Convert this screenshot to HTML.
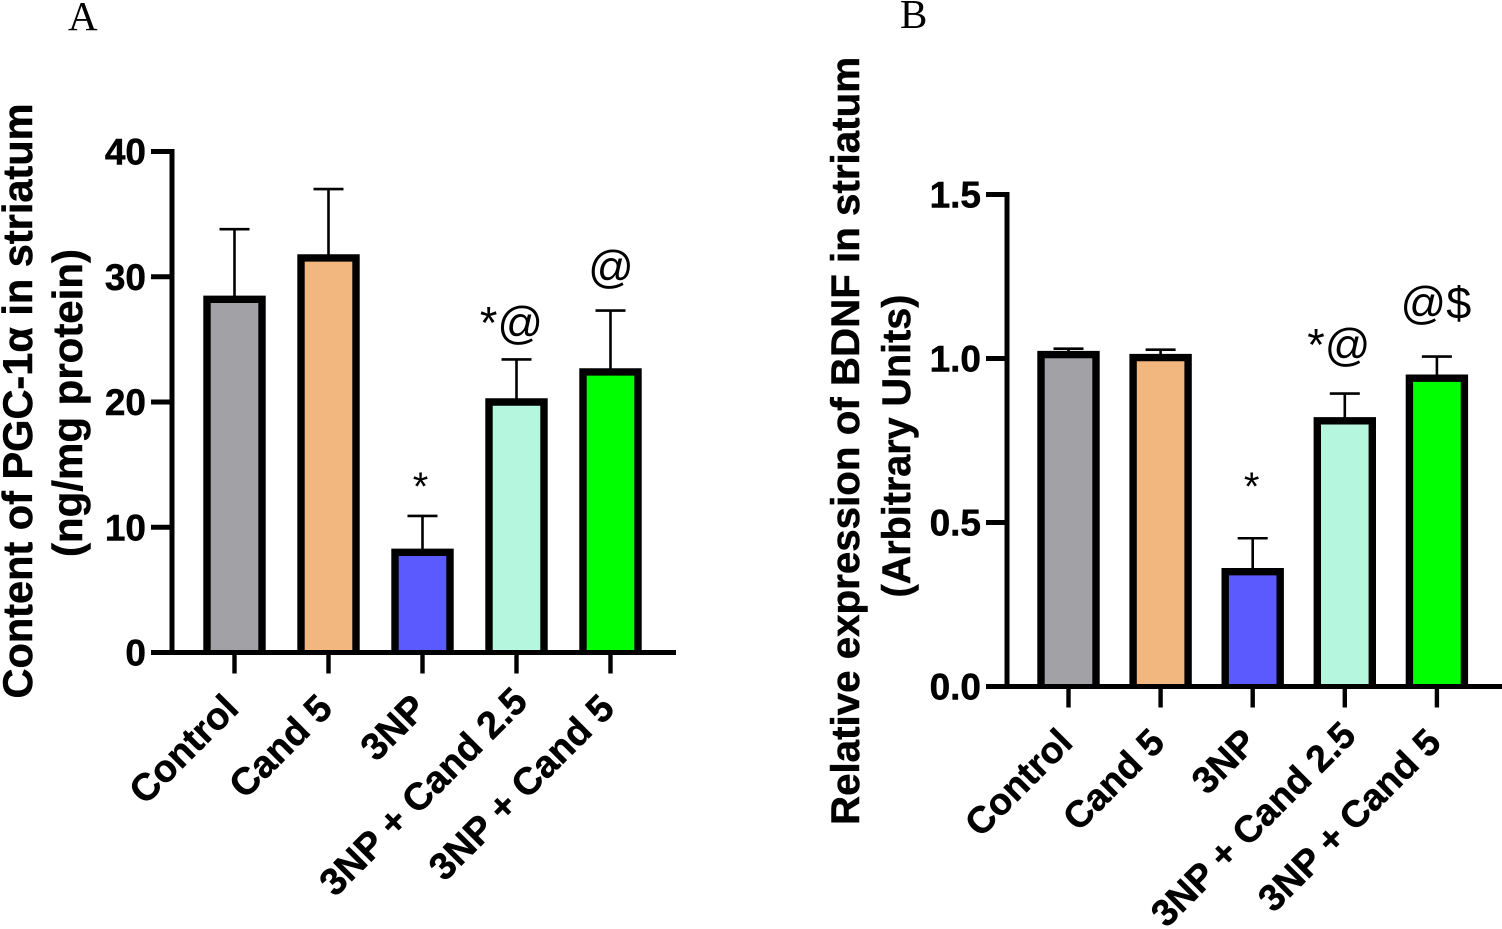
<!DOCTYPE html>
<html lang="en">
<head>
<meta charset="utf-8">
<title>PGC-1α and BDNF in striatum</title>
<style>
html,body{margin:0;padding:0;background:#fff;}
svg{display:block;}
text{fill:#000;}
.bold{font-family:"Liberation Sans",sans-serif;font-weight:700;stroke:#000;stroke-width:0.5px;}
.mark{font-family:"Liberation Sans",sans-serif;font-weight:400;}
.letter{font-family:"Liberation Serif",serif;font-size:41px;}
</style>
</head>
<body>
<svg id="figure" xmlns="http://www.w3.org/2000/svg" width="1502" height="929" viewBox="0 0 1502 929">
  <text class="letter" x="68" y="30">A</text>
  <text class="letter" x="900" y="28">B</text>
  <text class="bold" font-size="41.5" text-anchor="middle" transform="translate(32,401) rotate(-90)">Content of PGC-1α in striatum</text>
  <text class="bold" font-size="42" text-anchor="middle" transform="translate(82,403) rotate(-90)">(ng/mg protein)</text>
  <text class="bold" font-size="40.3" text-anchor="middle" transform="translate(859,441) rotate(-90)">Relative expression of BDNF in striatum</text>
  <text class="bold" font-size="39.5" text-anchor="middle" transform="translate(910,446) rotate(-90)">(Arbitrary Units)</text>
</svg>
<script>
const categories = ['Control', 'Cand 5', '3NP', '3NP + Cand 2.5', '3NP + Cand 5'];
const barColors = ['#a2a1a6', '#f2b77e', '#5a5aff', '#b5f7de', '#00ff00'];

const panelAValues = [28.2, 31.5, 8.0, 20.0, 22.4];
const panelAUpper = [33.8, 37.0, 10.9, 23.4, 27.3];
const panelATicks = [0, 10, 20, 30, 40];
const panelATickLabels = ['0', '10', '20', '30', '40'];
const panelAMarks = ['', '', '*', '*@', '@'];

const panelBValues = [1.012, 1.003, 0.35, 0.81, 0.94];
const panelBUpper = [1.03, 1.027, 0.452, 0.893, 1.006];
const panelBTicks = [0, 0.5, 1.0, 1.5];
const panelBTickLabels = ['0.0', '0.5', '1.0', '1.5'];
const panelBMarks = ['', '', '*', '*@', '@$'];

const SVG_NS = 'http://www.w3.org/2000/svg';
const figure = document.getElementById('figure');

function add(tag, attrs, text) {
  const el = document.createElementNS(SVG_NS, tag);
  for (const k in attrs) el.setAttribute(k, attrs[k]);
  if (text !== undefined) el.textContent = text;
  figure.appendChild(el);
  return el;
}

function drawPanel(p) {
  const y = v => p.y0 + (p.yTop - p.y0) * (v / p.yMax);
  const x = i => p.x0 + p.step * i;
  const barW = 55, stroke = 7.4;

  p.values.forEach((v, i) => {
    const cap = add('line', {x1: x(i) - 15, x2: x(i) + 15, y1: y(p.upper[i]), y2: y(p.upper[i]), stroke: '#000', 'stroke-width': 2.6});
    
    
    const stem = add('line', {x1: x(i), x2: x(i), y1: y(p.upper[i]), y2: y(v), stroke: '#000', 'stroke-width': 2.6});
    
    
    const bar = add('rect', {x: x(i) - barW / 2, y: y(v), width: barW, height: y(0) - y(v), fill: barColors[i]});
    
    
    const left = x(i) - barW / 2, right = x(i) + barW / 2;
    const outline = add('path', {d: 'M' + left + ' ' + y(0) + 'V' + y(v) + 'H' + right + 'V' + y(0), fill: 'none', stroke: '#000', 'stroke-width': stroke, 'stroke-linejoin': 'miter'});
    
    

    if (p.marks[i]) {
      const size = p.marks[i] === '*' ? 40 : 45;
      const m = add('text', {class: 'mark', 'font-size': size, 'text-anchor': 'middle', x: x(i) + p.markShift[p.marks[i]], y: y(p.upper[i]) - p.markLift[p.marks[i]]}, p.marks[i]);
      
      
    }

    const tick = add('line', {x1: x(i), x2: x(i), y1: y(0), y2: y(0) + 21, stroke: '#000', 'stroke-width': 4.4});
    
    
    const nudge = i === 3 ? 7 : 0;
    const lx = x(i) + 6 + nudge, ly = y(0) + 58 - nudge;
    const lab = add('text', {class: 'bold', 'font-size': p.labelSize, 'text-anchor': 'end', transform: 'translate(' + lx + ',' + ly + ') rotate(-45)'}, categories[i]);
    
    
  });

  const yAxis = add('line', {x1: p.axisX, x2: p.axisX, y1: y(p.yMax) - 2.5, y2: y(0) + 2.5, stroke: '#000', 'stroke-width': 5});
  
  
  const xAxis = add('line', {x1: p.axisX - 21, x2: p.xEnd, y1: y(0), y2: y(0), stroke: '#000', 'stroke-width': 5});
  
  

  p.ticks.forEach((t, i) => {
    const tk = add('line', {x1: p.axisX - 21, x2: p.axisX, y1: y(t), y2: y(t), stroke: '#000', 'stroke-width': 5});
    
    
    const tl = add('text', {class: 'bold', 'font-size': 37, 'text-anchor': 'end', x: p.axisX - 26, y: y(t) + 13}, p.tickLabels[i]);
    
    
  });
}

drawPanel({
  id: 'a', values: panelAValues, upper: panelAUpper, ticks: panelATicks, tickLabels: panelATickLabels, marks: panelAMarks,
  yMax: 40, y0: 652.5, yTop: 151.5, x0: 234.5, step: 94, axisX: 172, xEnd: 676, labelSize: 38,
  markShift: {'*': -2, '*@': -5, '@': 0.5}, markLift: {'*': 16, '*@': 21, '@': 28}
});
drawPanel({
  id: 'b', values: panelBValues, upper: panelBUpper, ticks: panelBTicks, tickLabels: panelBTickLabels, marks: panelBMarks,
  yMax: 1.5, y0: 686.5, yTop: 194.5, x0: 1068.5, step: 92.1, axisX: 1007, xEnd: 1502, labelSize: 37.4,
  markShift: {'*': -1, '*@': -6, '@$': -1}, markLift: {'*': 38, '*@': 33, '@$': 38}
});
</script>
</body>
</html>
